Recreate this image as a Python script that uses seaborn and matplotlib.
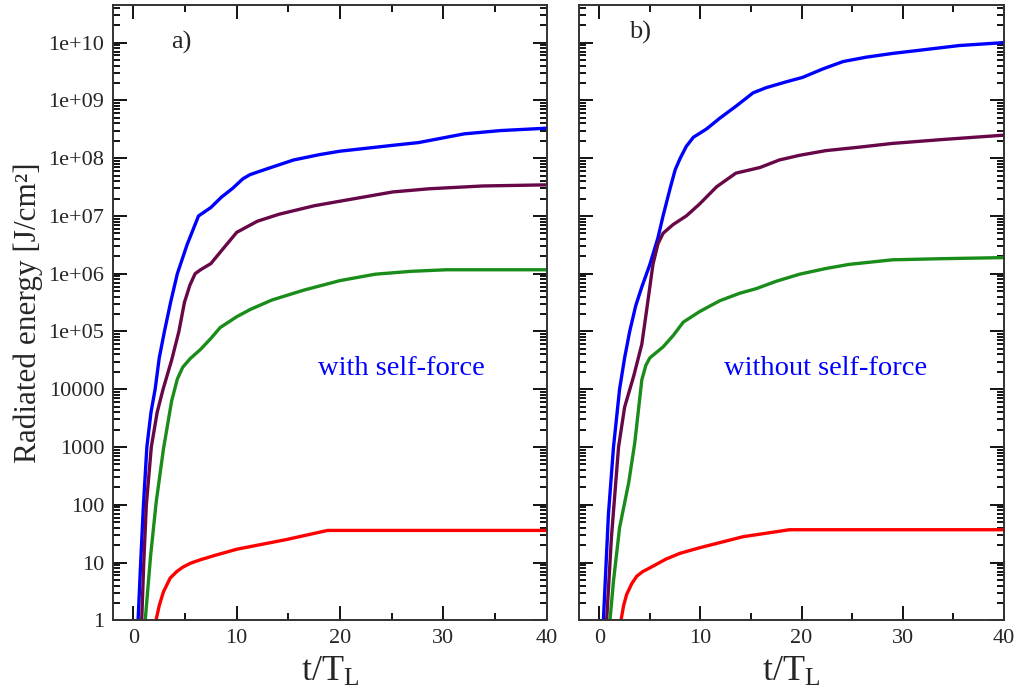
import pandas as pd
import matplotlib
matplotlib.use("Agg")
import matplotlib.pyplot as plt
import seaborn as sns
from matplotlib.ticker import FixedLocator, FixedFormatter, MultipleLocator, LogLocator, NullFormatter

# --- data (t / T_L, radiated energy in J/cm^2) ---
# panel a) with self-force
t_blue_a = [0.45, 0.7, 0.97, 1.3, 1.7, 2.1, 2.5, 3.0, 3.6, 4.25, 5.2, 6.3, 7.5, 8.5, 9.6, 10.6, 11.3, 13, 15.5, 18,
            20, 25, 27.6, 32, 35.5, 40]
e_blue_a = [1, 10, 100, 1000, 4000, 1e4, 3.5e4, 1e5, 3.2e5, 1e6, 3.2e6, 1e7, 1.4e7, 2.1e7, 3.0e7, 4.4e7, 5.2e7,
            6.6e7, 9.3e7, 1.15e8, 1.32e8, 1.66e8, 1.86e8, 2.63e8, 3.0e8, 3.3e8]
t_purple_a = [0.8, 1.0, 1.25, 1.73, 2.3, 2.87, 3.7, 4.4, 4.94, 5.46, 5.97, 6.5, 7.5, 8.6, 10, 12, 14.1, 17.5, 20,
              25.1, 28.6, 33.8, 40]
e_purple_a = [1, 10, 100, 1000, 4000, 1e4, 3.2e4, 1e5, 3.2e5, 6.3e5, 1e6, 1.17e6, 1.5e6, 2.6e6, 5.2e6, 8.1e6,
              1.07e7, 1.5e7, 1.8e7, 2.6e7, 2.95e7, 3.3e7, 3.45e7]
t_green_a = [1.14, 1.66, 2.2, 2.9, 3.7, 4.25, 4.77, 5.5, 6.5, 7.5, 8.4, 10, 11.3, 13.4, 16.5, 20, 23.4, 26.9, 30.3, 40]
e_green_a = [1, 13, 110, 910, 6300, 1.5e4, 2.4e4, 3.4e4, 4.9e4, 7.6e4, 1.17e5, 1.8e5, 2.4e5, 3.5e5, 5.2e5, 7.6e5,
             9.8e5, 1.1e6, 1.17e6, 1.17e6]
t_red_a = [2.18, 2.5, 2.9, 3.56, 4.2, 4.77, 5.5, 6.5, 8.0, 10, 14.8, 18.8, 40]
e_red_a = [1, 1.8, 3.1, 5.4, 7.0, 8.3, 9.7, 11.2, 13.5, 17, 25, 36, 36]

# panel b) without self-force
t_blue_b = [0.4, 0.9, 1.4, 2.0, 2.5, 3.0, 3.6, 4.2, 5.0, 5.8, 6.3, 7.0, 7.5, 8.0, 8.6, 9.3, 10.6, 11.9, 13.5, 15.2,
            16.5, 18.5, 20.1, 22.1, 24.1, 26.4, 29, 32.3, 35.6, 40]
e_blue_b = [1, 69, 1000, 1e4, 3.5e4, 1e5, 2.8e5, 5.9e5, 1.45e6, 4.2e6, 1e7, 3.0e7, 6.3e7, 1.0e8, 1.6e8, 2.3e8,
            3.2e8, 4.9e8, 7.9e8, 1.35e9, 1.66e9, 2.1e9, 2.5e9, 3.5e9, 4.7e9, 5.6e9, 6.5e9, 7.6e9, 8.9e9, 1.0e10]
t_purple_b = [0.72, 1.2, 1.9, 2.5, 3.4, 4.2, 4.7, 5.3, 5.8, 6.3, 7.3, 8.6, 9.9, 11.6, 13.5, 15.9, 17.8, 19.8, 22.4,
              25.7, 29, 33.9, 40]
e_purple_b = [1, 28, 1000, 4900, 1.7e4, 6.0e4, 2.5e5, 1.45e6, 3.3e6, 5.0e6, 7.1e6, 1e7, 1.6e7, 3.2e7, 5.5e7, 6.9e7,
              9.3e7, 1.12e8, 1.35e8, 1.55e8, 1.8e8, 2.1e8, 2.5e8]
t_green_b = [1.05, 1.4, 2.0, 2.9, 3.5, 4.2, 4.6, 5.0, 6.3, 7.3, 8.3, 9.9, 11.9, 13.9, 15.5, 17.5, 19.8, 22.4, 24.7,
             29, 33.9, 40]
e_green_b = [1, 4.8, 40, 240, 1170, 1.45e4, 2.6e4, 3.5e4, 5.4e4, 8.5e4, 1.45e5, 2.2e5, 3.4e5, 4.6e5, 5.5e5, 7.4e5,
             9.8e5, 1.23e6, 1.45e6, 1.74e6, 1.82e6, 1.9e6]
t_red_b = [2.14, 2.4, 2.7, 3.2, 3.7, 4.3, 5.0, 6.6, 8.0, 9.9, 14.2, 18.8, 40]
e_red_b = [1, 1.8, 2.8, 4.3, 5.8, 7.0, 8.1, 11.5, 14.5, 18, 28, 37, 37]

y_ticks = [1, 10, 100, 1000, 1e4, 1e5, 1e6, 1e7, 1e8, 1e9, 1e10]
y_labels = ["1", "10", "100", "1000", "10000", "1e+05", "1e+06", "1e+07", "1e+08", "1e+09", "1e+10"]
x_ticks = [0, 10, 20, 30, 40]

colors = {"blue": "#0000ff", "purple": "#670748", "green": "#1a8c1a", "red": "#ff0000"}

sns.set_theme(style="ticks")
plt.rcParams["font.family"] = ["Liberation Serif", "DejaVu Serif"]
plt.rcParams["mathtext.fontset"] = "custom"
plt.rcParams["mathtext.rm"] = "Liberation Serif"
plt.rcParams["mathtext.it"] = "Liberation Serif"

fig = plt.figure(figsize=(10.16, 6.97), dpi=100)
ax_a = fig.add_axes([0.111, 0.110, 0.427, 0.883])
ax_b = fig.add_axes([0.570, 0.110, 0.418, 0.883])

panels = [
    (ax_a, [(t_blue_a, e_blue_a, "blue"), (t_purple_a, e_purple_a, "purple"),
            (t_green_a, e_green_a, "green"), (t_red_a, e_red_a, "red")]),
    (ax_b, [(t_blue_b, e_blue_b, "blue"), (t_purple_b, e_purple_b, "purple"),
            (t_green_b, e_green_b, "green"), (t_red_b, e_red_b, "red")]),
]

for ax, curves in panels:
    for t, e, c in curves:
        df = pd.DataFrame({"t": t, "E": e})
        sns.lineplot(data=df, x="t", y="E", ax=ax, color=colors[c], lw=2.4, sort=False, estimator=None,
                     solid_joinstyle="round", solid_capstyle="round")
    ax.set_yscale("log")
    ax.set_xlim(-2, 40)
    ax.set_ylim(1, 4.5e10)
    ax.yaxis.set_major_locator(FixedLocator(y_ticks))
    ax.yaxis.set_minor_locator(LogLocator(base=10, subs=range(2, 10), numticks=20))
    ax.yaxis.set_minor_formatter(NullFormatter())
    ax.xaxis.set_major_locator(FixedLocator(x_ticks))
    ax.xaxis.set_minor_locator(MultipleLocator(5))
    ax.tick_params(which="both", direction="in", top=True, right=True, color="black", width=1.3)
    ax.tick_params(which="major", length=10, labelsize=16, pad=6)
    ax.tick_params(which="minor", length=5)
    for s in ax.spines.values():
        s.set_linewidth(1.4)
        s.set_color("#333333")
    ax.set_xlabel(r"t/T$_\mathregular{L}$", fontsize=26, labelpad=6)
    ax.set_ylabel("")

ax_a.yaxis.set_major_formatter(FixedFormatter(y_labels))
ax_b.yaxis.set_major_formatter(NullFormatter())
ax_a.set_ylabel("Radiated energy [J/cm²]", fontsize=22.5, labelpad=4)

ax_a.text(4.6, 1.0e10, "a)", fontsize=19, ha="center", va="center")
ax_b.text(4.0, 1.5e10, "b)", fontsize=19, ha="center", va="center")
ax_a.text(25.9, 2.3e4, "with self-force", fontsize=20.5, color="#0000ff", ha="center", va="center")
ax_b.text(22.4, 2.3e4, "without self-force", fontsize=20.5, color="#0000ff", ha="center", va="center")

fig.savefig("out.png", dpi=100)
